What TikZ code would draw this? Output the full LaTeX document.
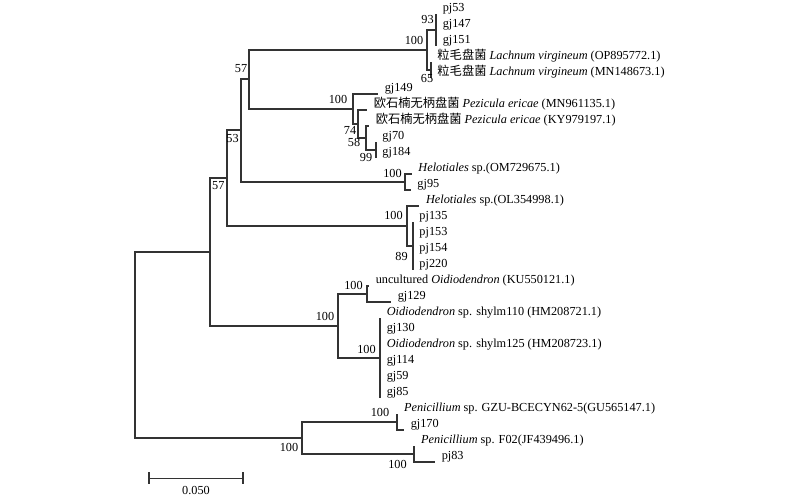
\documentclass[tikz,border=0pt]{standalone}
\usepackage{fontspec}
\setmainfont{Liberation Serif}
\newfontfamily\cjk{Noto Sans CJK SC}
\usetikzlibrary{calc}

\tikzset{
  branch/.style={line width=1.5pt, black!80},
  boot/.style={inner sep=0pt, font=\fontsize{9.2}{11}\selectfont},
  taxon/.style={anchor=base west, inner sep=0pt, font=\fontsize{9.2}{11}\selectfont},
}

\begin{document}
\begin{tikzpicture}[x=0.75pt,y=-0.75pt]
\useasboundingbox (0,0) rectangle (800,497);

% tips, one row every 16px
\foreach \x/\lbl [count=\i] in {
    436/{pj53}, 436/{gj147}, 436/{gj151},
    430.7/{{\cjk 粒毛盘菌} \textit{Lachnum virgineum} (OP895772.1)},
    430.7/{{\cjk 粒毛盘菌} \textit{Lachnum virgineum} (MN148673.1)},
    378/{gj149},
    367/{{\cjk 欧石楠无柄盘菌} \textit{Pezicula ericae} (MN961135.1)},
    369/{{\cjk 欧石楠无柄盘菌} \textit{Pezicula ericae} (KY979197.1)},
    375.7/{gj70}, 375.7/{gj184},
    411.7/{\textit{Helotiales} sp.(OM729675.1)},
    410.7/{gj95},
    419.3/{\textit{Helotiales} sp.(OL354998.1)},
    412.7/{pj135}, 412.7/{pj153}, 412.7/{pj154}, 412.7/{pj220},
    369/{uncultured \textit{Oidiodendron} (KU550121.1)},
    391/{gj129},
    380/{\textit{Oidiodendron} sp. shylm110 (HM208721.1)},
    380/{gj130},
    380/{\textit{Oidiodendron} sp. shylm125 (HM208723.1)},
    380/{gj114}, 380/{gj59}, 380/{gj85},
    397.3/{\textit{Penicillium} sp. GZU-BCECYN62-5(GU565147.1)},
    404/{gj170},
    414.3/{\textit{Penicillium} sp. F02(JF439496.1)},
    435/{pj83}} {
  \coordinate (tip\i) at (\x,16*\i-2.5);
  \node[taxon] (t\i) at ($(tip\i)+(6.5,-2)$) {\lbl};
}

% inner nodes
\coordinate (root) at (134.7,344.6);
\coordinate (n57b) at (210,251.7);
\coordinate (n53) at (226.7,177.9);
\coordinate (n57a) at (240.7,130.2);
\coordinate (lp) at (249.3,79);
\coordinate (lach) at (427.3,49.5);
\coordinate (n93) at (436,29.5);
\coordinate (n65) at (430.7,69.5);
\coordinate (pez) at (352.7,108.5);
\coordinate (n74) at (358.3,123.5);
\coordinate (n58) at (365.7,137.5);
\coordinate (n99) at (375.7,149.5);
\coordinate (helOM) at (405,181.5);
\coordinate (helOL) at (406.7,225.5);
\coordinate (pj) at (412.7,245.5);
\coordinate (oid) at (338.3,325.5);
\coordinate (oidA) at (366.7,293.5);
\coordinate (oidB) at (380,357.5);
\coordinate (pen) at (301.7,437.5);
\coordinate (penA) at (397.3,421.5);
\coordinate (penB) at (414.3,453.5);

\foreach \a/\b in {root/n57b, root/pen, n57b/n53, n57b/oid, n53/n57a, n53/helOL,
    n57a/lp, n57a/helOM, lp/lach, lp/pez, lach/n93, lach/n65,
    n93/tip1, n93/tip2, n93/tip3, n65/tip4, n65/tip5,
    pez/tip6, pez/n74, n74/tip7, n74/n58, n58/tip8, n58/n99, n99/tip9, n99/tip10,
    helOM/tip11, helOM/tip12, helOL/tip13, helOL/pj,
    pj/tip14, pj/tip15, pj/tip16, pj/tip17,
    oid/oidA, oid/oidB, oidA/tip18, oidA/tip19,
    oidB/tip20, oidB/tip21, oidB/tip22, oidB/tip23, oidB/tip24, oidB/tip25,
    pen/penA, pen/penB, penA/tip26, penA/tip27, penB/tip28, penB/tip29}
  \draw[branch] (\a) |- (\b);

% bootstrap values
\foreach \x/\y/\v in {427.5/19/93, 414/40/100, 427/78/65, 241/69/57,
    338/99.3/100, 350/130/74, 354/142.7/58, 366/157.3/99,
    232.5/138/53, 218.3/186/57, 392.5/173/100, 393.5/215/100, 401.5/256.7/89,
    353.5/285/100, 325/316.7/100, 366.5/349/100,
    380/412/100, 289/447/100, 397.5/464/100}
  \node[boot] at (\x,\y) {\v};

% scale bar
\coordinate (sbl) at (148.3,478.3);
\coordinate (sbr) at (244,478.3);
\draw[branch, line width=1.2pt, |-|] (sbl) -- (sbr);
\node[boot] (sblbl) at (196,490.5) {0.050};
\end{tikzpicture}
\end{document}
